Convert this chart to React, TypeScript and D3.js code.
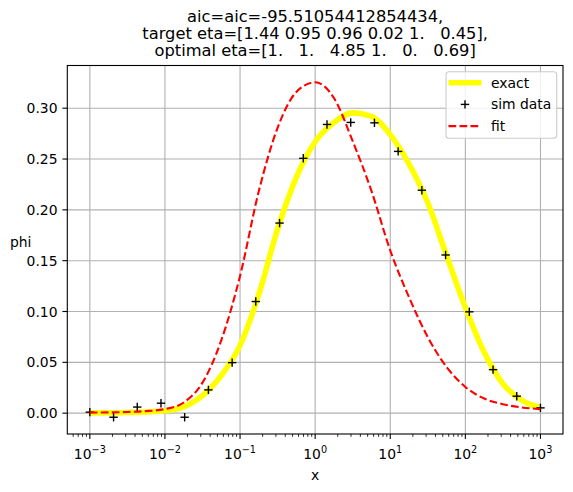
import * as d3 from 'd3';
import { useEffect, useRef } from 'react';

// curves (x, phi)
const curveX = [0.001, 0.00316, 0.00562, 0.01, 0.0178, 0.0316, 0.0562, 0.1, 0.178, 0.316, 0.562, 1,
    1.78, 3.16, 5.62, 10, 17.8, 31.6, 56.2, 100, 178, 316, 562, 1000];
const exactPhi = [0.0003, 0.0007, 0.0012, 0.0023, 0.0062, 0.0172, 0.037, 0.0667, 0.117, 0.181, 0.232, 0.267,
    0.286, 0.2954, 0.292, 0.274, 0.245, 0.207, 0.155, 0.104, 0.060, 0.029, 0.0127, 0.0055];
const fitPhi = [0.0005, 0.0012, 0.002, 0.004, 0.0105, 0.030, 0.0716, 0.135, 0.2186, 0.2807, 0.316, 0.3255,
    0.310, 0.2676, 0.2186, 0.16, 0.114, 0.0748, 0.0454, 0.0258, 0.0144, 0.0088, 0.0056, 0.004];

// simulated points
const simX = [0.001, 0.00207, 0.00428, 0.00886, 0.0183, 0.0379, 0.0785, 0.162, 0.336, 0.695,
    1.438, 2.976, 6.158, 12.74, 26.37, 54.56, 112.9, 233.6, 483.3, 1000];
const simPhi = [0.001, -0.004, 0.006, 0.0098, -0.004, 0.0229, 0.0497, 0.1098, 0.187, 0.2507,
    0.284, 0.286, 0.2856, 0.2575, 0.2193, 0.1556, 0.0997, 0.0428, 0.0167, 0.0052];

const yTicks = [0, 0.05, 0.1, 0.15, 0.2, 0.25, 0.3];
const xTickExps = [-3, -2, -1, 0, 1, 2, 3];
const titleLines = [
    'aic=aic=-95.51054412854434,',
    'target eta=[1.44 0.95 0.96 0.02 1.   0.45],',
    'optimal eta=[1.   1.   4.85 1.   0.   0.69]',
];

const FONT = 'DejaVu Sans, sans-serif';

export default function App() {
    const ref = useRef<SVGSVGElement>(null);

    useEffect(() => {
        const svg = d3.select(ref.current);
        svg.selectAll('*').remove();

        const left = 67.3, right = 563, top = 65.5, bottom = 434;

        const x = d3.scaleLog().domain([Math.pow(10, -3.3), Math.pow(10, 3.3)]).range([left, right]);
        const y = d3.scaleLinear().domain([-0.0205, 0.342]).range([bottom, top]);

        // grid
        const grid = svg.append('g').attr('stroke', '#b0b0b0').attr('stroke-width', 1.1);
        xTickExps.forEach(e => {
            grid.append('line').attr('x1', x(Math.pow(10, e))).attr('x2', x(Math.pow(10, e)))
                .attr('y1', top).attr('y2', bottom);
        });
        yTicks.forEach(t => {
            grid.append('line').attr('x1', left).attr('x2', right).attr('y1', y(t)).attr('y2', y(t));
        });

        const exactPts = curveX.map((v, i) => [v, exactPhi[i]] as [number, number]);
        const fitPts = curveX.map((v, i) => [v, fitPhi[i]] as [number, number]);
        const line = d3.line<[number, number]>()
            .x(d => x(d[0]))
            .y(d => y(d[1]))
            .curve(d3.curveMonotoneX);

        svg.append('path').attr('d', line(exactPts)).attr('fill', 'none')
            .attr('stroke', '#ffff00').attr('stroke-width', 5.6);

        // sim data markers
        const marks = svg.append('g').attr('stroke', 'black').attr('stroke-width', 1.4);
        simX.forEach((v, i) => {
            const cx = x(v), cy = y(simPhi[i]);
            marks.append('line').attr('x1', cx - 4.2).attr('x2', cx + 4.2).attr('y1', cy).attr('y2', cy);
            marks.append('line').attr('x1', cx).attr('x2', cx).attr('y1', cy - 4.2).attr('y2', cy + 4.2);
        });

        svg.append('path').attr('d', line(fitPts)).attr('fill', 'none')
            .attr('stroke', '#ff0000').attr('stroke-width', 2.1).attr('stroke-dasharray', '7.7,3.3');

        // frame
        svg.append('rect').attr('x', left).attr('y', top).attr('width', right - left).attr('height', bottom - top)
            .attr('fill', 'none').attr('stroke', 'black').attr('stroke-width', 1.1);

        // y ticks
        const yAxis = svg.append('g');
        yTicks.forEach(t => {
            yAxis.append('line').attr('x1', left - 4.9).attr('x2', left).attr('y1', y(t)).attr('y2', y(t))
                .attr('stroke', 'black').attr('stroke-width', 1.1);
            yAxis.append('text').attr('x', left - 9.8).attr('y', y(t)).attr('dy', '0.36em')
                .attr('text-anchor', 'end').attr('font-family', FONT).attr('font-size', 13.9)
                .text(d3.format('.2f')(t));
        });

        // x ticks (major + minor)
        const xAxis = svg.append('g');
        const [d0, d1] = x.domain();
        for (let e = -4; e <= 3; e++) {
            for (let m = 2; m <= 9; m++) {
                const v = m * Math.pow(10, e);
                if (v < d0 || v > d1) continue;
                xAxis.append('line').attr('x1', x(v)).attr('x2', x(v)).attr('y1', bottom).attr('y2', bottom + 2.8)
                    .attr('stroke', 'black').attr('stroke-width', 0.85);
            }
        }
        xTickExps.forEach(e => {
            const px = x(Math.pow(10, e));
            xAxis.append('line').attr('x1', px).attr('x2', px).attr('y1', bottom).attr('y2', bottom + 4.9)
                .attr('stroke', 'black').attr('stroke-width', 1.1);
            const t = xAxis.append('text').attr('x', px).attr('y', bottom + 25)
                .attr('text-anchor', 'middle').attr('font-family', FONT).attr('font-size', 13.9);
            t.append('tspan').text('10');
            t.append('tspan').attr('dy', -6.5).attr('font-size', 9.7).text(e < 0 ? `\u2212${-e}` : `${e}`);
        });

        // axis labels
        svg.append('text').attr('x', (left + right) / 2).attr('y', 480).attr('text-anchor', 'middle')
            .attr('font-family', FONT).attr('font-size', 13.9).text('x');
        svg.append('text').attr('x', 10).attr('y', 247).attr('font-family', FONT).attr('font-size', 13.9).text('phi');

        // title
        titleLines.forEach((s, i) => {
            svg.append('text').attr('x', (left + right) / 2).attr('y', 22 + i * 17.1)
                .attr('text-anchor', 'middle').attr('font-family', FONT).attr('font-size', 16.3)
                .attr('xml:space', 'preserve').style('white-space', 'pre').text(s);
        });

        // legend
        const lg = svg.append('g');
        lg.append('rect').attr('x', 446).attr('y', 71.7).attr('width', 110.7).attr('height', 66.6).attr('rx', 3)
            .attr('fill', 'white').attr('fill-opacity', 0.8).attr('stroke', '#cccccc').attr('stroke-width', 1.1);
        const rows = [82.7, 104.4, 126.1];
        lg.append('line').attr('x1', 448.5).attr('x2', 481.5).attr('y1', rows[0]).attr('y2', rows[0])
            .attr('stroke', '#ffff00').attr('stroke-width', 5.6);
        lg.append('line').attr('x1', 465 - 4.2).attr('x2', 465 + 4.2).attr('y1', rows[1]).attr('y2', rows[1])
            .attr('stroke', 'black').attr('stroke-width', 1.4);
        lg.append('line').attr('x1', 465).attr('x2', 465).attr('y1', rows[1] - 4.2).attr('y2', rows[1] + 4.2)
            .attr('stroke', 'black').attr('stroke-width', 1.4);
        lg.append('line').attr('x1', 448.5).attr('x2', 481.5).attr('y1', rows[2]).attr('y2', rows[2])
            .attr('stroke', '#ff0000').attr('stroke-width', 2.1).attr('stroke-dasharray', '7.7,3.3');
        ['exact', 'sim data', 'fit'].forEach((s, i) => {
            lg.append('text').attr('x', 491).attr('y', rows[i]).attr('dy', '0.36em')
                .attr('font-family', FONT).attr('font-size', 13.9).text(s);
        });
    }, []);

    return (
        <svg ref={ref} width={573} height={492}
            style={{ position: 'absolute', left: 0, top: 0, background: 'white' }} />
    );
}
